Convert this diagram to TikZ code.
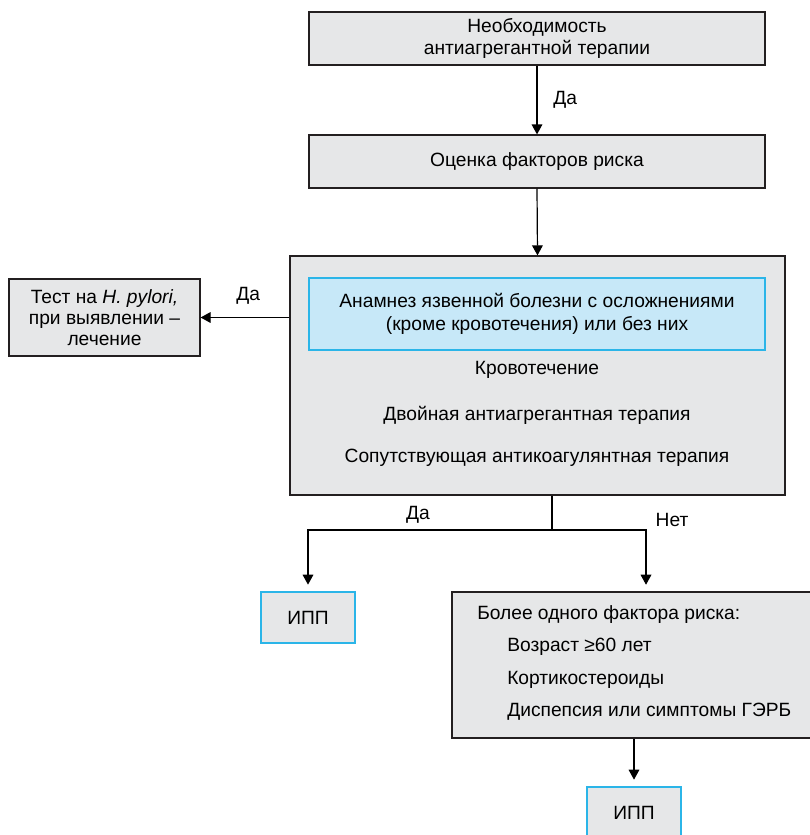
\documentclass[tikz,border=0pt]{standalone}
\usepackage{fontspec}
\setmainfont{Liberation Sans}
\usetikzlibrary{arrows.meta}
\definecolor{boxgrey}{HTML}{E6E7E8}
\definecolor{boxline}{HTML}{231F20}
\definecolor{bluefill}{HTML}{C7E8F8}
\definecolor{blueline}{HTML}{2BB5E8}
\tikzset{
  greybox/.style={draw=boxline, line width=0.9pt, fill=boxgrey, inner sep=0pt, align=center},
  bluebox/.style={draw=blueline, line width=1pt, fill=bluefill, inner sep=0pt, align=center},
  ippbox/.style={draw=blueline, line width=1pt, fill=boxgrey, inner sep=0pt, align=center},
  txt/.style={inner sep=0pt, align=center},
  ltxt/.style={inner sep=0pt, anchor=west},
  arr/.style={line width=0.9pt, draw=black, -{Triangle[width=8pt,length=7.5pt]}},
  ln/.style={line width=0.9pt, draw=black},
}
\begin{document}
\begin{tikzpicture}[x=0.75pt,y=-0.75pt, font=\fontsize{14.4pt}{16.8pt}\selectfont]
\useasboundingbox (0,0) rectangle (810,835);
% boxes
\node[greybox, minimum width=342pt, minimum height=39.75pt] (need) at (537,38.5)
  {Необходимость\\антиагрегантной терапии};
\node[greybox, minimum width=342pt, minimum height=39.75pt] (risk) at (537,161.5)
  {Оценка факторов риска};
\node[greybox, minimum width=371.25pt, minimum height=179.25pt] (main) at (537.5,375.5) {};
\node[bluebox, minimum width=342pt, minimum height=54pt] (hist) at (537,314)
  {Анамнез язвенной болезни с осложнениями\\(кроме кровотечения) или без них};
\node[txt] (bleed) at (537,370) {Кровотечение};
\node[txt] (dual) at (537,415) {Двойная антиагрегантная терапия};
\node[txt] (antico) at (537,458) {Сопутствующая антикоагулянтная терапия};
\node[greybox, minimum width=143.25pt, minimum height=57.75pt, font=\fontsize{14.4pt}{15.9pt}\selectfont] (hp) at (104.5,317.5)
  {Тест на \textit{H. pylori,}\\при выявлении –\\лечение};
\node[ippbox, minimum width=70.5pt, minimum height=38.25pt] (ipp1) at (308,617.5) {ИПП};
\node[greybox, minimum width=272.25pt, minimum height=109.5pt] (more) at (633.5,665) {};
\node[ltxt] (more1) at (477,615) {Более одного фактора риска:};
\node[ltxt] (age) at (507,647) {Возраст ≥60 лет};
\node[ltxt] (cort) at (507,680) {Кортикостероиды};
\node[ltxt] (dysp) at (507,712) {Диспепсия или симптомы ГЭРБ};
\node[ippbox, minimum width=70.5pt, minimum height=38.25pt] (ipp2) at (634,812.5) {ИПП};
% connectors
\draw[arr] (need.south) -- (risk.north);
\node[ltxt] (yes1) at (553,100) {Да};
\draw[arr] (risk.south) -- (main.north);
\draw[arr] (main.west |- hp.east) -- (hp.east);
\node[ltxt] (yes2) at (236,296) {Да};
\coordinate (j) at (552,530);
\coordinate (r) at (646,530);
\draw[ln] (main.south -| j) -- (j);
\draw[arr, shorten >=5pt] (j) -| (ipp1.north);
\draw[arr, shorten >=5pt] (j) -- (r) -- (r |- more.north);
\node[txt] (yes3) at (418,515) {Да};
\node[txt] (no) at (672,520) {Нет};
\draw[arr, shorten >=5pt] (more.south -| ipp2.north) -- (ipp2.north);
\end{tikzpicture}
\end{document}
